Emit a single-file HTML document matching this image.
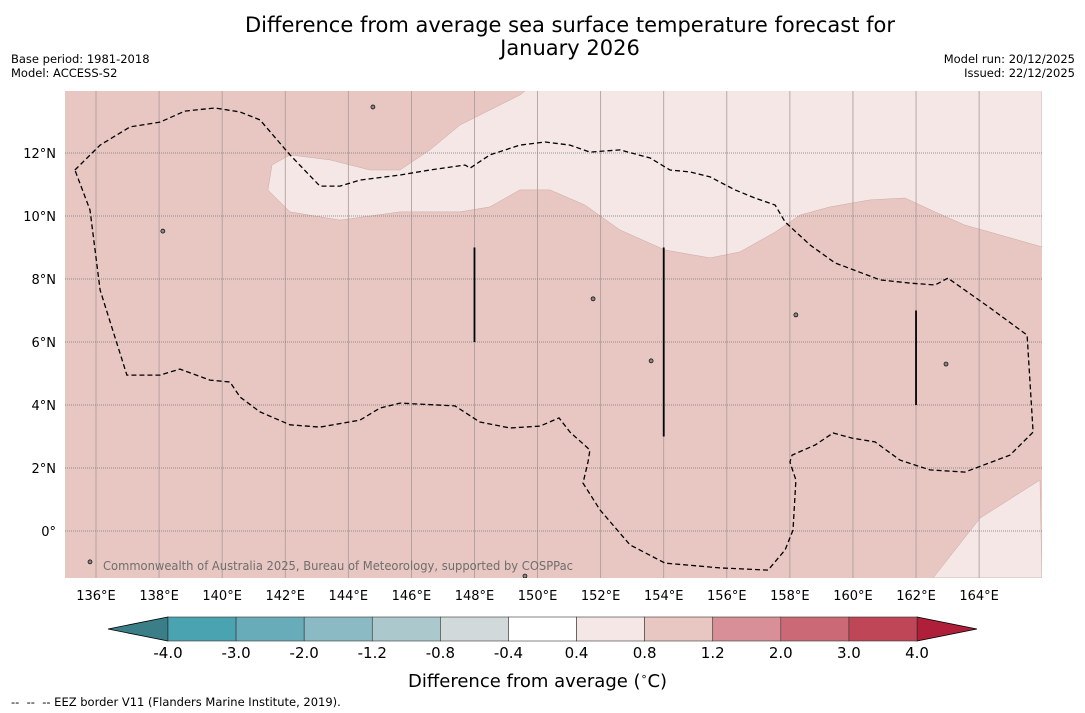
<!DOCTYPE html>
<html><head><meta charset="utf-8"><style>
body{margin:0;background:#fff;font-family:"DejaVu Sans","Liberation Sans",sans-serif;}
#wrap{position:relative;width:1085px;height:713px;overflow:hidden;background:#fff}
.t{position:absolute;white-space:nowrap}
svg text{font-family:"DejaVu Sans","Liberation Sans",sans-serif}
</style></head><body>
<div id="wrap">
<div class="t" style="left:0;width:1140px;top:14px;text-align:center;font-size:21px;line-height:23px;color:#000">Difference from average sea surface temperature forecast for<br>January 2026</div>
<div class="t" style="left:11px;top:52px;font-size:11.5px;line-height:14px">Base period: 1981-2018<br>Model: ACCESS-S2</div>
<div class="t" style="right:10px;top:52px;font-size:11.5px;line-height:14px;text-align:right">Model run: 20/12/2025<br>Issued: 22/12/2025</div>
<svg id="svg" width="1085" height="713" style="position:absolute;left:0;top:0"></svg>
<div class="t" style="left:408px;top:670px;font-size:18px">Difference from average (<sup style="font-size:11px">∘</sup>C)</div>
<div class="t" style="left:11px;top:695px;font-size:11.5px">--&nbsp; --&nbsp; -- EEZ border V11 (Flanders Marine Institute, 2019).</div>
</div>
<script>
const lonTicks=[136,138,140,142,144,146,148,150,152,154,156,158,160,162,164];
const latTicks=[0,2,4,6,8,10,12];
const cbLevels=["-4.0","-3.0","-2.0","-1.2","-0.8","-0.4","0.4","0.8","1.2","2.0","3.0","4.0"];
const cbColors=["#4aa3b1","#68acb9","#8bb9c4","#abc9cd","#d1d9db","#ffffff","#f4e7e6","#e8c7c2","#d88f97","#cb6a76","#bf4656"];
const warmRegion=[[150.01,14.29],[149.44,13.84],[147.54,12.89],[146.59,12.10],[145.64,11.46],[144.69,11.46],[143.42,11.78],[142.15,11.94],[141.58,11.62],[141.45,10.83],[142.15,10.13],[143.74,9.87],[145.64,10.13],[147.54,10.13],[148.49,10.29],[149.44,10.83],[150.39,10.83],[151.50,10.35],[152.61,9.56],[154.04,8.92],[155.47,8.67],[156.42,8.86],[157.53,9.49],[158.32,10.03],[159.27,10.29],[160.54,10.51],[161.65,10.57],[162.60,10.13],[163.55,9.71],[164.66,9.40],[165.99,9.02],[165.99,14.29]];
const warmRegion2=[[162.54,-1.49],[164.03,0.41],[165.93,1.62],[165.99,-1.49]];
const eez=[[135.33,11.46],[136.13,12.25],[137.08,12.83],[138.03,12.98],[138.82,13.33],[139.77,13.43],[140.57,13.30],[141.20,13.05],[142.15,11.94],[143.10,10.95],[143.74,10.95],[144.37,11.14],[145.64,11.30],[146.59,11.46],[147.70,11.62],[147.86,11.52],[148.49,11.94],[149.44,12.25],[150.24,12.35],[151.03,12.25],[151.66,12.03],[152.61,12.10],[153.57,11.84],[154.20,11.46],[154.83,11.40],[155.47,11.24],[156.26,10.83],[156.89,10.57],[157.53,10.35],[157.85,9.81],[158.64,9.08],[159.43,8.51],[160.86,7.97],[161.81,7.87],[162.60,7.81],[163.01,8.03],[164.35,7.08],[165.52,6.22],[165.71,3.14],[164.98,2.41],[163.55,1.87],[162.44,1.94],[161.49,2.25],[160.70,2.83],[159.97,2.95],[159.37,3.11],[158.80,2.73],[158.07,2.41],[158.00,2.19],[158.19,1.62],[158.10,0.03],[157.85,-0.60],[157.31,-1.24],[155.78,-1.17],[154.04,-1.02],[152.93,-0.44],[151.98,0.67],[151.44,1.52],[151.60,2.19],[151.66,2.57],[151.03,3.14],[150.68,3.59],[150.08,3.33],[149.13,3.27],[148.17,3.46],[147.38,3.97],[145.64,4.06],[145.00,3.90],[144.37,3.52],[143.10,3.30],[142.15,3.37],[141.20,3.78],[140.57,4.25],[140.25,4.73],[139.61,4.79],[138.66,5.14],[138.03,4.95],[136.98,4.95],[136.13,7.65],[135.81,10.19],[135.33,11.46]];
const bars=[[148,6,9],[154,3,9],[162,4,7]];
const islands=[[144.78,13.46],[138.12,9.52],[151.76,7.37],[158.19,6.86],[162.95,5.30],[135.81,-0.98],[149.60,-1.43],[153.6,5.4]];
const X=lon=>96+(lon-136)*31.54, Y=lat=>531-lat*31.5;
const NS="http://www.w3.org/2000/svg", svg=document.getElementById('svg');
function mk(t,a,p){const e=document.createElementNS(NS,t);for(const k in a)e.setAttribute(k,a[k]);(p||svg).appendChild(e);return e;}
const defs=mk('defs',{});const cp=mk('clipPath',{id:'c'},defs);mk('rect',{x:65,y:91,width:977,height:487},cp);
const g=mk('g',{'clip-path':'url(#c)'});
let r=mk('rect',{x:65,y:91,width:977,height:487,fill:'#e8c7c2'},g);


const pts=a=>a.map(p=>X(p[0]).toFixed(1)+','+Y(p[1]).toFixed(1)).join(' ');
let w=mk('polygon',{points:pts(warmRegion),fill:'#f4e7e5',stroke:'#c9a9a5','stroke-width':0.5},g);


let w2=mk('polygon',{points:pts(warmRegion2),fill:'#f4e7e5',stroke:'#c9a9a5','stroke-width':0.5},g);


lonTicks.forEach(l=>{const e=mk('line',{x1:X(l),x2:X(l),y1:91,y2:578,stroke:'#a89a9a','stroke-width':0.8},g);


const t=mk('text',{x:X(l),y:600,'text-anchor':'middle','font-size':13});t.textContent=l+'°E';

});
latTicks.forEach(l=>{const e=mk('line',{x1:65,x2:1042,y1:Y(l),y2:Y(l),stroke:'#777','stroke-width':0.8,'stroke-dasharray':'1,1'},g);


const t=mk('text',{x:56,y:Y(l)+5,'text-anchor':'end','font-size':13});t.textContent=l===0?'0°':l+'°N';

});
let ez=mk('polyline',{points:pts(eez),fill:'none',stroke:'#000','stroke-width':1.3,'stroke-dasharray':'5,3'},g);


bars.forEach(b=>{const e=mk('line',{x1:X(b[0]),x2:X(b[0]),y1:Y(b[2]),y2:Y(b[1]),stroke:'#000','stroke-width':1.8},g);

});
islands.forEach(p=>{const e=mk('circle',{cx:X(p[0]),cy:Y(p[1]),r:2,fill:'#888',stroke:'#000','stroke-width':0.7},g);

});
let cr=mk('text',{x:103,y:570,'font-size':12,fill:'#6e6e6e',textLength:470,lengthAdjust:'spacingAndGlyphs'},g);cr.textContent='Commonwealth of Australia 2025, Bureau of Meteorology, supported by COSPPac';


const cx0=168,cx1=917,cy=617,ch=24,sw=(cx1-cx0)/cbColors.length;
let lt=mk('polygon',{points:`108,629 ${cx0},${cy} ${cx0},${cy+ch}`,fill:'#3a7f88',stroke:'#000','stroke-width':0.8});


let rt=mk('polygon',{points:`977,629 ${cx1},${cy} ${cx1},${cy+ch}`,fill:'#b01f3a',stroke:'#000','stroke-width':0.8});


cbColors.forEach((c,i)=>{const e=mk('rect',{x:cx0+i*sw,y:cy,width:sw,height:ch,fill:c,stroke:'#333','stroke-width':0.6});

});
cbLevels.forEach((s,i)=>{const t=mk('text',{x:cx0+i*sw,y:658,'text-anchor':'middle','font-size':15});t.textContent=s;

});
</script>
</body></html>
